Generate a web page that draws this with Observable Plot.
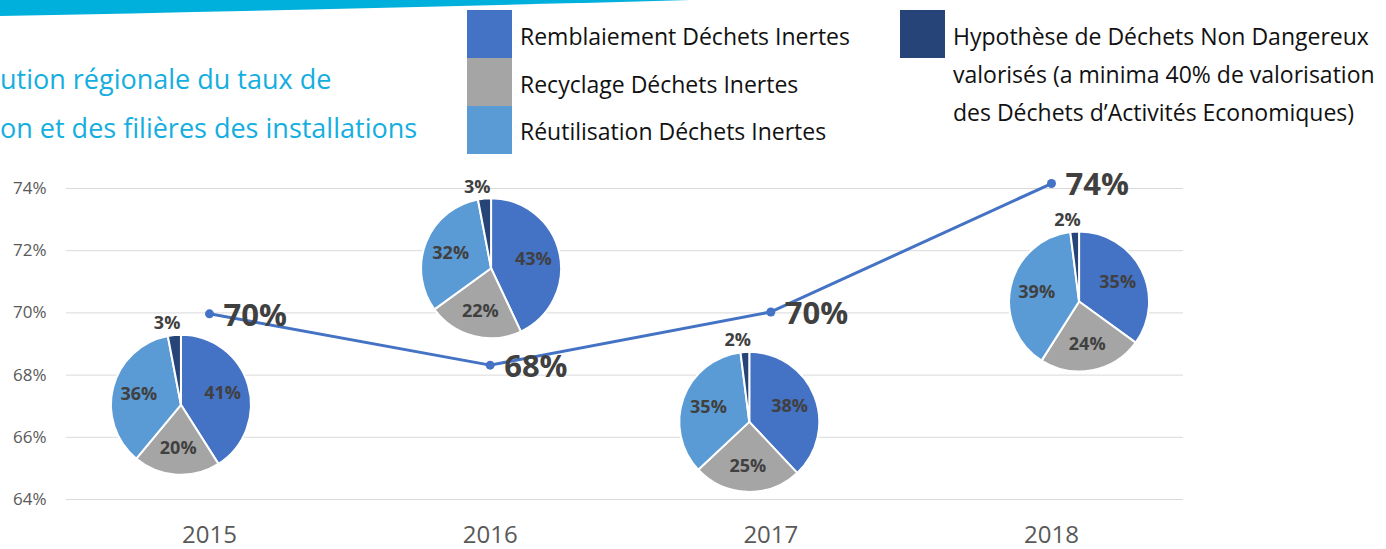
<!DOCTYPE html>
<html><head><meta charset="utf-8">
<script src="https://cdn.jsdelivr.net/npm/d3@7"></script>
<script src="https://cdn.jsdelivr.net/npm/@observablehq/plot@0.6"></script>
<style>
body{margin:0;background:#fff;}
#wrap{position:relative;width:1386px;height:549px;overflow:hidden;font-family:"Open Sans",sans-serif;background:#fff;}
#chart{position:absolute;left:0;top:0;}
#banner{position:absolute;left:0;top:0;}
#title{position:absolute;left:0;top:54px;color:#14AEE0;font-size:27px;line-height:49px;white-space:pre;}
.leg{position:absolute;display:flex;align-items:flex-start;color:#111;}
.sw{width:45px;height:48px;flex:none;}
.lt{margin-left:8px;font-size:23px;white-space:pre-line;}
</style></head>
<body>
<div id="wrap">
  <svg id="banner" width="1386" height="20"><path d="M0,0 L690,0 Q400,8 0,16 Z" fill="#00B0DC"/></svg>
  <div id="title"></div>
  <div id="chart"></div>
  <div id="legend"></div>
</div>
<script>
// ---- data ----
const years = [2015, 2016, 2017, 2018];
const tauxValorisation = [69.97, 68.32, 70.03, 74.16];
const categories = [
  "Remblaiement Déchets Inertes",
  "Recyclage Déchets Inertes",
  "Réutilisation Déchets Inertes",
  "Hypothèse de Déchets Non Dangereux\nvalorisés (a minima 40% de valorisation\ndes Déchets d’Activités Economiques)"
];
const remblaiement = [41, 43, 38, 35];
const recyclage = [20, 22, 25, 24];
const reutilisation = [36, 32, 35, 39];
const hypotheseDND = [3, 3, 2, 2];
const yTicks = [64, 66, 68, 70, 72, 74];
const titleLines = ["ution régionale du taux de", "on et des filières des installations"];

// ---- layout / style ----
const colors = ["#4472C4", "#A5A5A5", "#5B9BD5", "#264478"];
const pieCenterX = [2014.9, 2016.005, 2016.925, 2018.1];
const pieCenterY = [67.03, 71.42, 66.48, 70.35];
const pieRadius = 70;

document.getElementById("title").textContent = titleLines.join("\n");

// legend
const legend = document.getElementById("legend");
function addLeg(i, left, top, lineHeight, padTop) {
  const d = document.createElement("div");
  d.className = "leg";
  d.style.left = left + "px"; d.style.top = top + "px";
  const s = document.createElement("div");
  s.className = "sw"; s.style.background = colors[i];
  const t = document.createElement("div");
  t.className = "lt"; t.style.lineHeight = lineHeight + "px"; t.style.paddingTop = padTop + "px";
  t.textContent = categories[i];
  d.appendChild(s); d.appendChild(t);
  legend.appendChild(d);
}
addLeg(0, 467, 10, 48, 2);
addLeg(1, 467, 58, 48, 2);
addLeg(2, 467, 106, 48, 1);
addLeg(3, 900, 10, 38, 7);

const data = years.map((year, i) => ({year, value: tauxValorisation[i]}));
const pies = years.map((year, i) => ({
  year, cx: pieCenterX[i], cy: pieCenterY[i],
  values: [remblaiement[i], recyclage[i], reutilisation[i], hypotheseDND[i]]
}));

function pieRender(index, scales) {
  const g = d3.create("svg:g");
  const pie = d3.pie().sort(null).value(d => d);
  const arc = d3.arc().innerRadius(0).outerRadius(pieRadius);
  pies.forEach(p => {
    const cx = scales.x(p.cx), cy = scales.y(p.cy);
    const arcs = pie(p.values);
    const gp = g.append("g").attr("transform", `translate(${cx},${cy})`);
    gp.selectAll("path").data(arcs).join("path")
      .attr("d", arc).attr("fill", (d, i) => colors[i])
      .attr("stroke", "#fff").attr("stroke-width", 2).attr("stroke-linejoin", "round");
    arcs.forEach(a => {
      const mid = (a.startAngle + a.endAngle) / 2;
      let x, y, anchor;
      if (a.data < 5) { x = Math.sin(mid) * pieRadius + 6; y = -pieRadius - 12; anchor = "end"; }
      else { const rho = pieRadius * 0.62; x = Math.sin(mid) * rho; y = -Math.cos(mid) * rho; anchor = "middle"; }
      gp.append("text").attr("x", x).attr("y", y).attr("dy", "0.35em").attr("text-anchor", anchor)
        .attr("font-size", 18).attr("font-weight", "bold").attr("fill", "#404040").text(a.data + "%");
    });
  });
  return g.node();
}

const chart = Plot.plot({
  width: 1386, height: 549,
  marginLeft: 66, marginRight: 203, marginTop: 188, marginBottom: 50,
  style: {fontFamily: "'Open Sans', sans-serif", fontSize: "18px", color: "#595959", background: "transparent", overflow: "visible"},
  x: {type: "linear", domain: [2015, 2018], range: [209, 1051]},
  y: {domain: [64, 74]},
  marks: [
    Plot.ruleY(yTicks, {stroke: "#D9D9D9", strokeWidth: 1}),
    Plot.axisY({ticks: yTicks, tickFormat: d => d + "%", tickSize: 0, tickPadding: 20, label: null, fontSize: 17}),
    Plot.axisX({ticks: years, tickFormat: d => String(d), tickSize: 0, tickPadding: 26, label: null, fontSize: 24}),
    pieRender,
    Plot.line(data, {x: "year", y: "value", stroke: "#4472C4", strokeWidth: 3}),
    Plot.dot(data, {x: "year", y: "value", r: 4.5, fill: "#4472C4"}),
    Plot.text(data, {x: "year", y: "value", text: d => Math.round(d.value) + "%", dx: 14, dy: 2, textAnchor: "start", fontSize: 31, fontWeight: "bold", fill: "#404040"})
  ]
});
document.getElementById("chart").appendChild(chart);
</script>
</body></html>
